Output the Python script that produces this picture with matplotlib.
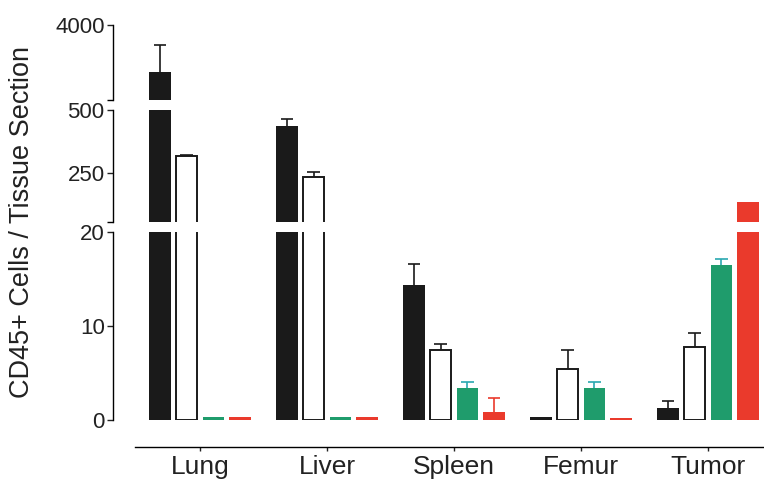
import numpy as np
import matplotlib
matplotlib.use('Agg')
import matplotlib.pyplot as plt

plt.rcParams['font.family'] = ['Liberation Sans', 'DejaVu Sans']

# groups and series
tissues = ['Lung', 'Liver', 'Spleen', 'Femur', 'Tumor']

black_vals = [1807, 436, 14.4, 0.28, 1.3]
black_err = [1260, 28, 2.2, 0, 0.75]
white_vals = [319, 234, 7.45, 5.4, 7.8]
white_err = [2, 20, 0.65, 2.05, 1.5]
green_vals = [0.28, 0.28, 3.4, 3.4, 16.5]
green_err = [0, 0, 0.6, 0.6, 0.6]
red_vals = [0.28, 0.28, 0.9, 0.25, 136]
red_err = [0, 0, 1.4, 0, 0]

series = [
    (black_vals, black_err, '#1a1a1a', '#1a1a1a', '#1a1a1a'),
    (white_vals, white_err, 'white', '#1a1a1a', '#1a1a1a'),
    (green_vals, green_err, '#1f9c6c', '#1f9c6c', '#2aa8b0'),
    (red_vals, red_err, '#ea3a2c', '#ea3a2c', '#ea3a2c'),
]

W, H = 764, 479
fig = plt.figure(figsize=(W / 100, H / 100), dpi=100)


def px_axes(top, bottom):
    left, right = 113, 764
    return fig.add_axes([left / W, 1 - bottom / H, (right - left) / W, (bottom - top) / H])


ax_top = px_axes(25, 100)
ax_mid = px_axes(110, 222)
ax_bot = px_axes(232, 420)

ax_top.set_ylim(500, 4000)
ax_mid.set_ylim(55, 500)
ax_bot.set_ylim(0, 20)
axes = [ax_top, ax_mid, ax_bot]

x = np.arange(len(tissues))
pitch = 0.21
width = 0.168
offsets = [-1.5, -0.5, 0.5, 1.5]
cap = 0.05

for ax in axes:
    lo, hi = ax.get_ylim()
    for (vals, errs, fc, ec, errc), off in zip(series, offsets):
        xs = x + off * pitch
        lw = 1.4 if fc == 'white' else 0
        ax.bar(xs, vals, width=width, color=fc, edgecolor=ec, linewidth=lw, zorder=2)
        for xi, v, e in zip(xs, vals, errs):
            # only draw the error bar in the segment where its top sits
            if e > 0 and lo <= v + e <= hi:
                ax.vlines(xi, v, v + e, color=errc, linewidth=1.2, zorder=3)
                ax.hlines(v + e, xi - cap, xi + cap, color=errc, linewidth=1.2, zorder=3)
    ax.set_xlim(-0.685, 4.44)
    ax.patch.set_alpha(0)
    for s in ('top', 'right'):
        ax.spines[s].set_visible(False)
    ax.spines['left'].set_linewidth(1.0)
    ax.tick_params(axis='y', direction='out', length=4, width=1.0,
                   labelsize=16, colors='#222222', pad=2)
    ax.tick_params(axis='y', which='minor', length=4, width=1.0)

for ax in (ax_top, ax_mid):
    ax.spines['bottom'].set_visible(False)
    ax.set_xticks([])

ax_top.set_yticks([4000])
ax_top.set_yticks([500], minor=True)
ax_mid.set_yticks([250, 500])
ax_mid.set_yticks([55], minor=True)
ax_bot.set_yticks([0, 10, 20])

ax_bot.spines['bottom'].set_position(('outward', 19.4))
ax_bot.spines['bottom'].set_bounds(-0.512, 4.44)
ax_bot.spines['bottom'].set_linewidth(1.0)
ax_bot.set_xticks(x)
ax_bot.set_xticklabels(tissues)
ax_bot.tick_params(axis='x', direction='out', length=3, width=1.0,
                   labelsize=19, colors='#222222', pad=3)

fig.text(22 / W, 1 - 222 / H, 'CD45+ Cells / Tissue Section', rotation=90,
         ha='center', va='center', fontsize=19.5, color='#222222')

fig.savefig('out.png', dpi=100)
